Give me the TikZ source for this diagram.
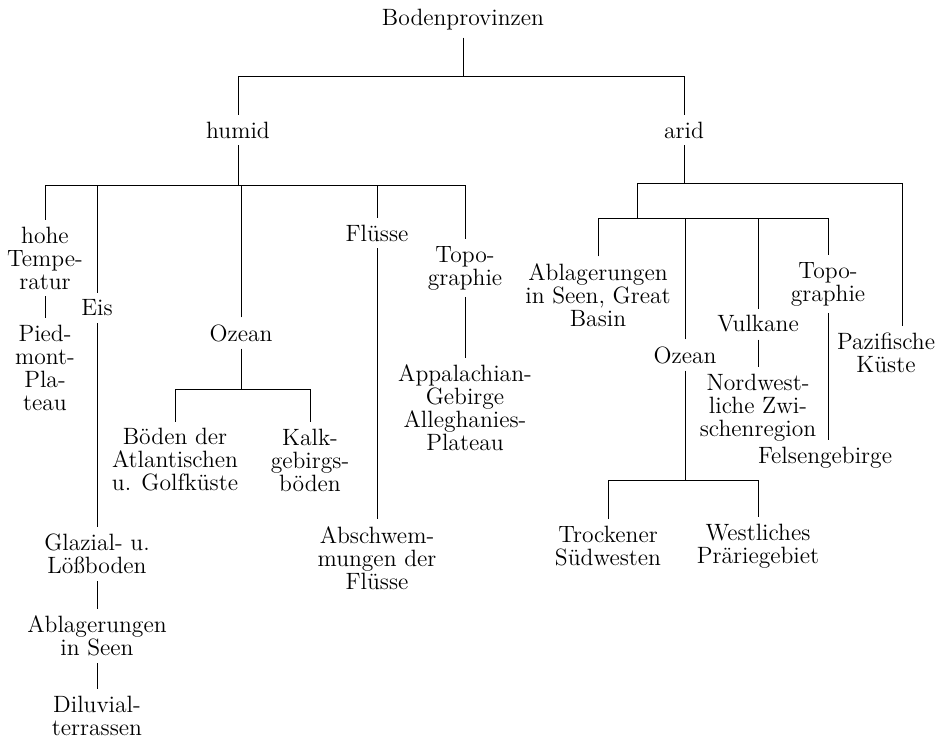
\documentclass[tikz,border=0pt]{standalone}
\begin{document}
\begin{tikzpicture}[x=0.5pt,y=-0.5pt,
        every node/.style={align=center,font=\fontsize{11.8}{11.5}\selectfont}]
        \useasboundingbox (0,0) rectangle (945,739);
        % radice
        \node (bod) at (463,20) {Bodenprovinzen};
        \node (hum) at (238,130) {humid};
        \node (ari) at (684,130) {arid};
        \coordinate (b0) at (0,76);
        \draw (bod) -- (bod |- b0);
        \draw (hum) -- (hum |- b0) -- (ari |- b0) -- (ari);

        % ramo humid
        \node (hoh) at (45,258) {hohe\\Tempe-\\ratur};
        \node (pie) at (45,368) {Pied-\\mont-\\Pla-\\teau};
        \node (eis) at (97,308) {Eis};
        \node (gla) at (97,554) {Glazial- u.\\Lößboden};
        \node (abl) at (97,636) {Ablagerungen\\in Seen};
        \node (dil) at (97,716) {Diluvial-\\terrassen};
        \node (oze) at (241,333) {Ozean};
        \node (boe) at (175,460) {Böden der\\Atlantischen\\u. Golfküste};
        \node (kal) at (310,460) {Kalk-\\gebirgs-\\böden};
        \node (flu) at (377,233) {Flüsse};
        \node (abs) at (377,558) {Abschwem-\\mungen der\\Flüsse};
        \node (top) at (465,268) {Topo-\\graphie};
        \node (app) at (465,408) {Appalachian-\\Gebirge\\Alleghanies-\\Plateau};
        \coordinate (b1) at (0,185);
        \coordinate (b2) at (0,389);
        \draw (hum) -- (hum |- b1);
        \draw (hoh) -- (hoh |- b1) -- (top |- b1) -- (top);
        \draw (eis) -- (eis |- b1);
        \draw (oze) -- (oze |- b1);
        \draw (flu) -- (flu |- b1);
        \draw (hoh) -- (pie);
        \draw (eis) -- (gla);
        \draw (gla) -- (abl);
        \draw (abl) -- (dil);
        \draw (oze) -- (oze |- b2);
        \draw (boe) -- (boe |- b2) -- (kal |- b2) -- (kal);
        \draw (flu) -- (abs);
        \draw (top) -- (app);

        % ramo arid
        \node (abg) at (598,295) {Ablagerungen\\in Seen, Great\\Basin};
        \node (ozb) at (685,355) {Ozean};
        \node (tro) at (608,546) {Trockener\\Südwesten};
        \node (wes) at (758,546) {Westliches\\Präriegebiet};
        \node (vul) at (758,324) {Vulkane};
        \node (nor) at (758,408) {Nordwest-\\liche Zwi-\\schenregion};
        \node (tob) at (828,284) {Topo-\\graphie};
        \node (fel) at (825,458) {Felsengebirge};
        \node (paz) at (886,353) {Pazifische\\Küste};
        \coordinate (b3) at (637,183);
        \coordinate (b4) at (637,218);
        \coordinate (b5) at (0,480);
        \coordinate (pz) at ([xshift=8pt]paz.north);
        \draw (ari) -- (ari |- b3);
        \draw (b4) -- (b3) -- (pz |- b3) -- (pz);
        \draw (abg) -- (abg |- b4) -- (tob |- b4) -- (tob);
        \draw (ozb) -- (ozb |- b4);
        \draw (vul) -- (vul |- b4);
        \draw (vul) -- (nor);
        \draw (tob) -- (tob |- fel.north);
        \draw (ozb) -- (ozb |- b5);
        \draw (tro) -- (tro |- b5) -- (wes |- b5) -- (wes);
    \end{tikzpicture}
\end{document}
